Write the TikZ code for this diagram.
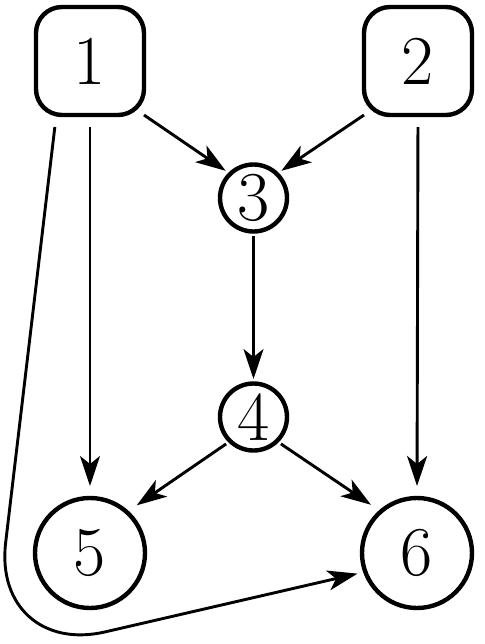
\documentclass[tikz,border=0pt]{standalone}
\usetikzlibrary{arrows.meta}
\begin{document}
\begin{tikzpicture}[x=0.5pt,y=-0.5pt,
  digit/.style={font=\fontsize{35}{42}\selectfont, inner sep=0pt, outer sep=0pt, draw, line width=2.2pt},
  box/.style={digit, rounded corners=13pt, minimum size=54pt},
  smallc/.style={digit, circle, minimum size=33.5pt},
  bigc/.style={digit, circle, minimum size=55pt},
  edge/.style={line width=1.45pt, -{Stealth[length=15pt,width=10pt,inset=4pt]}}]
\useasboundingbox (0,0) rectangle (484,644);
\node[box] (1) at (90,61) {1};
\node[box] (2) at (418,61) {2};
\node[smallc] (3) at (253.5,198) {3};
\node[smallc] (4) at (253.5,417) {4};
\node[bigc] (5) at (90,553) {5};
\node[bigc] (6) at (417,553) {6};
\coordinate (c) at (-8,658);
\draw[edge, shorten >=2.75pt] (1.south east) -- (3.134);
\draw[edge, shorten >=2.75pt] (2.south west) -- (3.46);
\draw[edge, shorten <=2.25pt, shorten >=2.25pt] (3.south) -- (4.north);
\draw[edge, shorten <=6pt, shorten >=6pt] (1.south) -- (5.north);
\draw[edge, shorten <=6pt, shorten >=6pt] (2.south) -- (6.north);
\draw[edge, shorten <=2.5pt, shorten >=6pt] (4.226) -- (5.48);
\draw[edge, shorten <=2.5pt, shorten >=6pt] (4.-46) -- (6.131);
\draw[edge, rounded corners=58pt, shorten <=6pt, shorten >=4pt] (1.238) -- (c) -- (6.200);
\end{tikzpicture}
\end{document}
